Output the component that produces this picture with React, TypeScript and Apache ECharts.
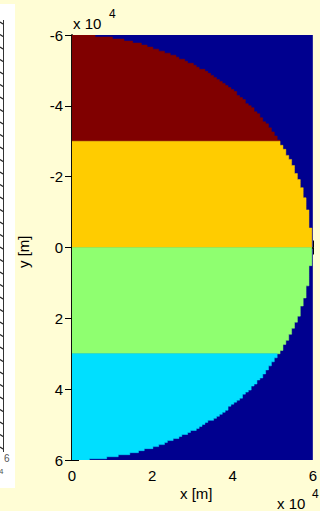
import React, { useEffect, useRef } from "react";
import * as echarts from "echarts";

// Region bands (y in metres) of the half-disc, top to bottom
const bandStarts = [-60000, -30000, 0, 30000];
const bandEnds = [-30000, 0, 30000, 60000];
const bandIds = [4, 3, 2, 1];
const discRadius = 60000;
const cellWidth = 720;
const cellHeight = 570;

const palette: Record<number, string> = {
  4: "#800000",
  3: "#FFCC00",
  2: "#8FFF70",
  1: "#00DFFF",
};
const outsideColor = "#00008F";
const pageBg = "#FFFDD5";
const font = "Liberation Sans, Arial, sans-serif";

export default function App() {
  const ref = useRef<HTMLDivElement>(null);
  useEffect(() => {
    if (!ref.current) return;
    const chart = echarts.init(ref.current, undefined, { renderer: "svg" });
    const data = bandIds.map((id, i) => [0, bandStarts[i], bandEnds[i], id]);
    const axisLabel = {
      color: "#000",
      fontSize: 15,
      fontFamily: font,
      formatter: (v: number) => String(Math.round(v / 10000)),
    };
    const axisLine = { show: true, lineStyle: { color: "#000", width: 1.5 } };
    const axisTick = { show: true, inside: true, length: 7, lineStyle: { color: "#000", width: 1 } };

    const stripTicks: any[] = [];
    for (let y = 22; y < 450; y += 12.5) {
      stripTicks.push({
        type: "line",
        shape: { x1: 0, y1: y, x2: 3, y2: y + 2 },
        style: { stroke: "#222", lineWidth: 1.2 },
        z: 11,
      });
    }

    chart.setOption({
      animation: false,
      backgroundColor: pageBg,
      grid: {
        left: 72,
        top: 35,
        width: 250,
        height: 425,
        show: true,
        backgroundColor: outsideColor,
        borderWidth: 0,
      },
      xAxis: [
        {
          type: "value",
          min: 0,
          max: 60000,
          interval: 20000,
          position: "bottom",
          axisLine,
          axisTick,
          axisLabel: { ...axisLabel, margin: 8 },
          splitLine: { show: false },
        },
        {
          type: "value",
          min: 0,
          max: 60000,
          interval: 20000,
          position: "top",
          axisLine,
          axisTick,
          axisLabel: { show: false },
          splitLine: { show: false },
        },
      ],
      yAxis: [
        {
          type: "value",
          inverse: true,
          min: -60000,
          max: 60000,
          interval: 20000,
          position: "left",
          axisLine,
          axisTick,
          axisLabel: { ...axisLabel, margin: 9 },
          splitLine: { show: false },
        },
        {
          type: "value",
          inverse: true,
          min: -60000,
          max: 60000,
          interval: 20000,
          position: "right",
          axisLine,
          axisTick,
          axisLabel: { show: false },
          splitLine: { show: false },
        },
      ],
      series: [
        {
          type: "custom",
          xAxisIndex: 0,
          yAxisIndex: 0,
          clip: true,
          encode: { x: 0, y: [1, 2] },
          data,
          renderItem: (params: any, api: any) => {
            const y0 = api.value(1);
            const y1 = api.value(2);
            const id = api.value(3);
            const pts: number[][] = [api.coord([0, y0])];
            for (let y = y0; y < y1; y += cellHeight) {
              const yb = Math.min(y + cellHeight, y1);
              const yc = (y + yb) / 2;
              const half = Math.sqrt(Math.max(0, discRadius * discRadius - yc * yc));
              const x = Math.floor(half / cellWidth) * cellWidth;
              pts.push(api.coord([x, y]));
              pts.push(api.coord([x, yb]));
            }
            pts.push(api.coord([0, y1]));
            return {
              type: "polygon",
              shape: { points: pts },
              style: { fill: palette[id], stroke: palette[id], lineWidth: 0.5 },
            };
          },
          z: 2,
        },
      ],
      graphic: [
        { type: "rect", shape: { x: 0, y: 4, width: 15, height: 484 }, style: { fill: "#fff" }, z: 10 },
        { type: "line", shape: { x1: 3.5, y1: 20, x2: 3.5, y2: 452 }, style: { stroke: "#333", lineWidth: 1 }, z: 11 },
        ...stripTicks,
        { type: "text", x: 4, y: 453, style: { text: "6", fill: "#555", fontSize: 10, fontFamily: font }, z: 11 },
        { type: "text", x: -1, y: 467, style: { text: "4", fill: "#555", fontSize: 8, fontFamily: font }, z: 11 },
        { type: "text", x: 73, y: 16, style: { text: "x 10", fill: "#000", fontSize: 15, fontFamily: font }, z: 20 },
        { type: "text", x: 109, y: 8, style: { text: "4", fill: "#000", fontSize: 12, fontFamily: font }, z: 20 },
        { type: "text", x: 277, y: 496, style: { text: "x 10", fill: "#000", fontSize: 15, fontFamily: font }, z: 20 },
        { type: "text", x: 312, y: 488, style: { text: "4", fill: "#000", fontSize: 12, fontFamily: font }, z: 20 },
        { type: "text", x: 180, y: 486, style: { text: "x [m]", fill: "#000", fontSize: 15, fontFamily: font }, z: 20 },
        {
          type: "text",
          x: 16,
          y: 268,
          rotation: Math.PI / 2,
          style: { text: "y [m]", fill: "#000", fontSize: 15, fontFamily: font },
          z: 20,
        },
      ],
    });
    return () => chart.dispose();
  }, []);
  return (
    <div
      ref={ref}
      style={{ position: "fixed", left: 0, top: 0, width: 320, height: 511 }}
    />
  );
}
